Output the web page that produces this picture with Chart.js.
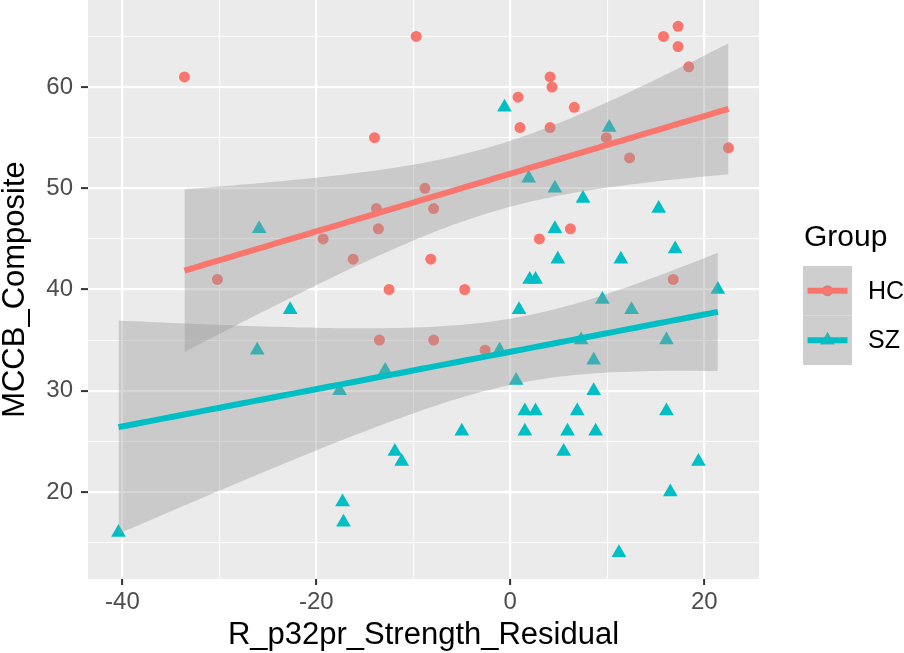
<!DOCTYPE html>
<html>
<head>
<meta charset="utf-8">
<script src="https://cdn.jsdelivr.net/npm/chart.js@4.4.1/dist/chart.umd.min.js"></script>
<style>
  html, body { margin: 0; padding: 0; background: #ffffff; }
  #wrap { width: 904px; height: 653px; }
</style>
</head>
<body>
<div id="wrap"><canvas id="chart" width="904" height="653"></canvas></div>
<script>
// values
const groups = ['HC', 'SZ'];
const hcX = [-33.6, -30.2, -19.3, -16.2, -14.0, -13.8, -13.6, -13.5, -12.5, -9.7, -8.8, -8.2, -7.9, -7.9, -4.7, -2.6,
             0.8, 1.0, 3.0, 4.1, 4.3, 4.1, 6.2, 6.6, 9.9, 12.3, 15.8, 16.8, 17.3, 17.3, 18.4, 22.5];
const hcY = [61, 41, 45, 43, 55, 48, 46, 35, 40, 65, 50, 43, 48, 35, 40, 34,
             59, 56, 45, 61, 60, 56, 46, 58, 55, 53, 65, 41, 66, 64, 62, 54];
const szX = [-40.4, -26.1, -25.9, -22.7, -17.6, -17.3, -17.2, -12.9, -11.9, -11.2, -5.0, -1.1, -0.6, 0.6, 0.9,
             1.5, 1.5, 1.9, 2.0, 2.6, 2.6, 4.6, 4.6, 4.9, 5.5, 5.9, 6.9, 7.3, 7.5, 8.6, 8.6, 8.8, 9.5, 10.2,
             11.2, 11.4, 12.5, 15.3, 16.1, 16.1, 16.5, 17.0, 19.4, 21.4];
const szY = [16, 34, 46, 38, 30, 19, 17, 32, 24, 23, 26, 34, 58, 31, 38,
             28, 26, 51, 41, 41, 28, 50, 46, 43, 24, 26, 28, 35, 49, 33, 30, 26, 39, 56,
             14, 43, 38, 48, 35, 28, 20, 44, 23, 40];

const xMajor = [-40, -20, 0, 20];
const xMinor = [-30, -10, 10];
const yMajor = [20, 30, 40, 50, 60];
const yMinor = [15, 25, 35, 45, 55, 65];

const colors = {HC: '#F8766D', SZ: '#00BFC4'};
const bandFill = 'rgba(153,153,153,0.4)';
const FONT = '"Liberation Sans", Arial, Helvetica, sans-serif';

// t quantile (0.975) approximation, good enough for df > 20
function tq(df) {
    const z = 1.959964;
    return z + (z ** 3 + z) / (4 * df) + (5 * z ** 5 + 16 * z ** 3 + 3 * z) / (96 * df * df);
}

// linear fit with 95% confidence band, like geom_smooth(method = "lm")
function lmFit(xs, ys) {
    const n = xs.length;
    const mx = xs.reduce((a, b) => a + b, 0) / n;
    const my = ys.reduce((a, b) => a + b, 0) / n;
    let sxx = 0, sxy = 0;
    xs.forEach((x, i) => { sxx += (x - mx) ** 2; sxy += (x - mx) * (ys[i] - my); });
    const b = sxy / sxx, a = my - b * mx;
    let sse = 0;
    xs.forEach((x, i) => { sse += (ys[i] - a - b * x) ** 2; });
    const s = Math.sqrt(sse / (n - 2));
    const t = tq(n - 2);
    const lo = Math.min(...xs), hi = Math.max(...xs);
    const fit = [], lower = [], upper = [];
    for (let k = 0; k < 80; k++) {
        const x = lo + (hi - lo) * k / 79;
        const y = a + b * x;
        const se = s * Math.sqrt(1 / n + (x - mx) ** 2 / sxx);
        fit.push({x, y});
        lower.push({x, y: y - t * se});
        upper.push({x, y: y + t * se});
    }
    return {fit, lower, upper};
}

const pts = (xs, ys) => xs.map((x, i) => ({x, y: ys[i]}));
const hcFit = lmFit(hcX, hcY);
const szFit = lmFit(szX, szY);

// ggplot style 5% expansion
const allX = hcX.concat(szX), allY = hcY.concat(szY);
const xLo = Math.min(...allX), xHi = Math.max(...allX);
const yLo = Math.min(...allY), yHi = Math.max(...allY);
const xPad = (xHi - xLo) * 0.05, yPad = (yHi - yLo) * 0.05;

const isMajor = (arr, v) => arr.some(m => Math.abs(m - v) < 1e-6);

const legendPlugin = {
    id: 'ggLegend',
    afterDraw(chart) {
        const ctx = chart.ctx;
        ctx.save();
        ctx.fillStyle = '#000000';
        ctx.font = '30px ' + FONT;
        ctx.textBaseline = 'alphabetic';
        ctx.textAlign = 'left';
        ctx.fillText('Group', 804, 246);

        const keyX = 803, keyW = 49, keyH = 49.5;
        const rows = [
            {name: 'HC', y: 266, style: 'circle'},
            {name: 'SZ', y: 315.5, style: 'triangle'}
        ];
        rows.forEach(r => {
            const cy = r.y + keyH / 2;
            ctx.fillStyle = '#F2F2F2';
            ctx.fillRect(keyX, r.y, keyW, keyH);
            // point glyph
            ctx.fillStyle = colors[r.name];
            ctx.beginPath();
            if (r.style === 'circle') {
                ctx.arc(keyX + keyW / 2, cy, 5.5, 0, Math.PI * 2);
            } else {
                const rr = 8.5, px = keyX + keyW / 2;
                ctx.moveTo(px, cy - rr);
                ctx.lineTo(px + rr * 0.866, cy + rr / 2);
                ctx.lineTo(px - rr * 0.866, cy + rr / 2);
                ctx.closePath();
            }
            ctx.fill();
            // band
            ctx.fillStyle = bandFill;
            ctx.fillRect(keyX, r.y, keyW, keyH);
            // line
            ctx.strokeStyle = colors[r.name];
            ctx.lineWidth = 6;
            ctx.beginPath();
            ctx.moveTo(keyX + 4.5, cy);
            ctx.lineTo(keyX + keyW - 4.5, cy);
            ctx.stroke();

            ctx.fillStyle = '#000000';
            ctx.font = '25px ' + FONT;
            ctx.textBaseline = 'middle';
            ctx.fillText(r.name, 868, cy + 1);
        });
        ctx.restore();
    }
};

const noPad = s => { s.paddingTop = 0; s.paddingBottom = 0; s.paddingLeft = 0; s.paddingRight = 0; };

const ctx = document.getElementById('chart').getContext('2d');
new Chart(ctx, {
    type: 'scatter',
    data: {
        datasets: [
            {label: 'HC', data: pts(hcX, hcY), backgroundColor: colors.HC, pointStyle: 'circle',
             pointRadius: 5.5, pointBorderWidth: 0, order: 3},
            {label: 'SZ', data: pts(szX, szY), backgroundColor: colors.SZ, pointStyle: 'triangle',
             pointRadius: 8.5, pointBorderWidth: 0, order: 3},
            {type: 'line', label: 'HC lo', data: hcFit.lower, borderWidth: 0, pointRadius: 0, fill: false, order: 2},
            {type: 'line', label: 'HC hi', data: hcFit.upper, borderWidth: 0, pointRadius: 0,
             fill: '-1', backgroundColor: bandFill, order: 2},
            {type: 'line', label: 'SZ lo', data: szFit.lower, borderWidth: 0, pointRadius: 0, fill: false, order: 2},
            {type: 'line', label: 'SZ hi', data: szFit.upper, borderWidth: 0, pointRadius: 0,
             fill: '-1', backgroundColor: bandFill, order: 2},
            {type: 'line', label: 'HC fit', data: hcFit.fit, borderColor: colors.HC, borderWidth: 6,
             pointRadius: 0, fill: false, order: 1},
            {type: 'line', label: 'SZ fit', data: szFit.fit, borderColor: colors.SZ, borderWidth: 6,
             pointRadius: 0, fill: false, order: 1}
        ]
    },
    options: {
        responsive: false,
        animation: false,
        devicePixelRatio: 1,
        layout: {autoPadding: false, padding: {left: 0, right: 145, top: 0, bottom: 0}},
        plugins: {
            legend: {display: false},
            tooltip: {enabled: false}
        },
        scales: {
            x: {
                type: 'linear',
                min: xLo - xPad,
                max: xHi + xPad,
                afterBuildTicks: s => { s.ticks = xMajor.concat(xMinor).sort((a, b) => a - b).map(v => ({value: v})); },
                afterFit: s => { s.height = 74; noPad(s); },
                border: {display: false},
                grid: {
                    color: '#FFFFFF',
                    lineWidth: c => isMajor(xMajor, c.tick.value) ? 2.2 : 1.1,
                    tickColor: c => isMajor(xMajor, c.tick.value) ? '#333333' : 'rgba(0,0,0,0)',
                    tickWidth: 2,
                    tickLength: 6,
                    drawTicks: true
                },
                ticks: {
                    color: '#4D4D4D',
                    font: {family: FONT, size: 24},
                    padding: 3,
                    maxRotation: 0,
                    autoSkip: false,
                    callback: v => isMajor(xMajor, v) ? String(v) : ''
                },
                title: {
                    display: true,
                    text: 'R_p32pr_Strength_Residual',
                    color: '#000000',
                    font: {family: FONT, size: 31, lineHeight: 1.1},
                    padding: {top: 0, bottom: 0}
                }
            },
            y: {
                type: 'linear',
                min: yLo - yPad,
                max: yHi + yPad,
                afterBuildTicks: s => { s.ticks = yMajor.concat(yMinor).sort((a, b) => a - b).map(v => ({value: v})); },
                afterFit: s => { s.width = 88; noPad(s); },
                border: {display: false},
                grid: {
                    color: '#FFFFFF',
                    lineWidth: c => isMajor(yMajor, c.tick.value) ? 2.2 : 1.1,
                    tickColor: c => isMajor(yMajor, c.tick.value) ? '#333333' : 'rgba(0,0,0,0)',
                    tickWidth: 2,
                    tickLength: 7,
                    drawTicks: true
                },
                ticks: {
                    color: '#4D4D4D',
                    font: {family: FONT, size: 24},
                    padding: 8,
                    autoSkip: false,
                    callback: v => isMajor(yMajor, v) ? String(v) : ''
                },
                title: {
                    display: true,
                    text: 'MCCB_Composite',
                    color: '#000000',
                    font: {family: FONT, size: 31, lineHeight: 1.1},
                    padding: {top: -2, bottom: 0}
                }
            }
        }
    },
    plugins: [{
        id: 'panelBg',
        beforeDraw(chart) {
            const a = chart.chartArea;
            chart.ctx.save();
            chart.ctx.fillStyle = '#EBEBEB';
            chart.ctx.fillRect(a.left, a.top, a.right - a.left, a.bottom - a.top);
            chart.ctx.restore();
        }
    }, legendPlugin]
});
</script>
</body>
</html>
